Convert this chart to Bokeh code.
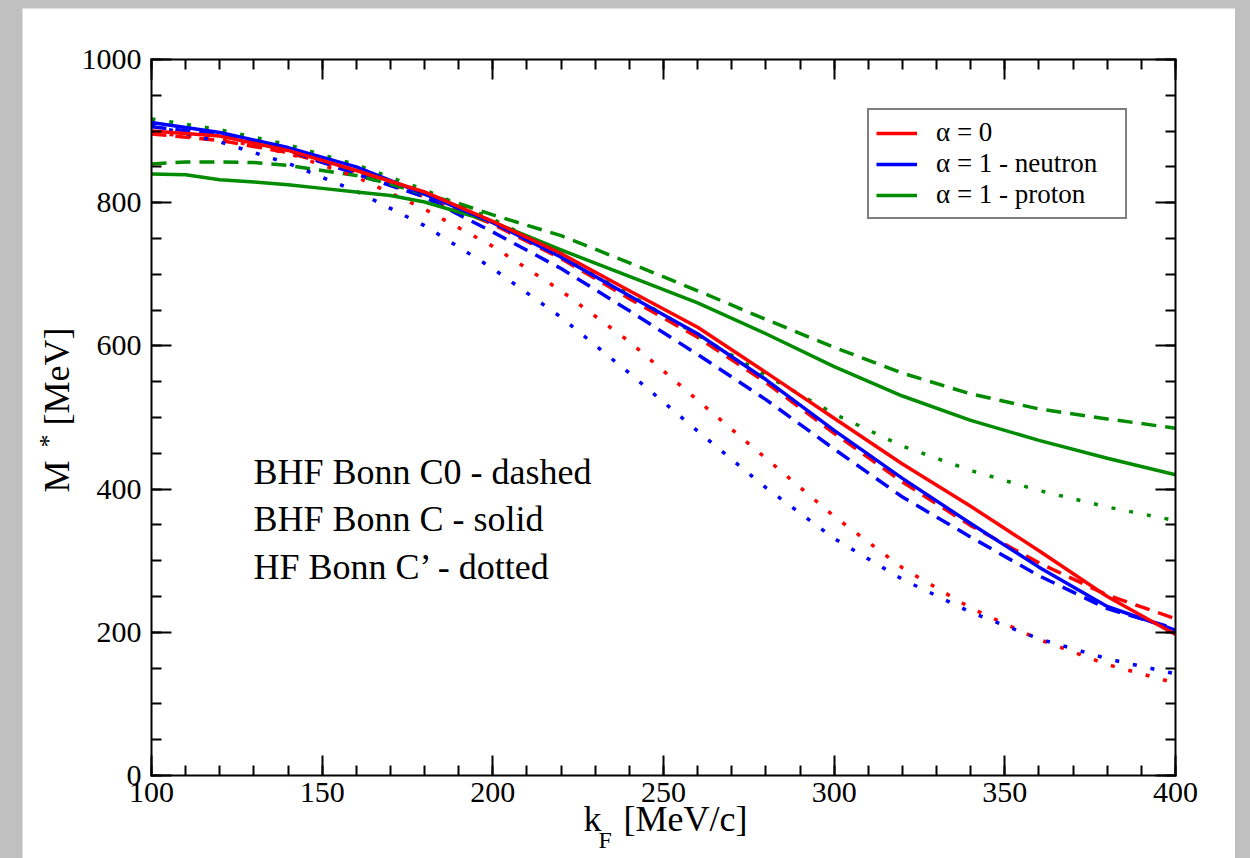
from bokeh.plotting import figure
from bokeh.models import FixedTicker, LinearAxis, Legend, LegendItem, Label, Range1d
from bokeh.layouts import column
from bokeh.embed import file_html
from bokeh.resources import INLINE

# ---------------- data ----------------
k20 = [100, 120, 140, 160, 180, 200, 220, 240, 260, 280, 300, 320, 340, 360, 380, 400]

# alpha = 0
red_solid = [900, 893, 873, 845, 815, 774, 729, 677, 626, 563, 499, 435, 376, 314, 250, 197]   # BHF Bonn C
red_dashed = [896, 887, 870, 843, 808, 770, 722, 666, 612, 549, 478, 410, 349, 297, 252, 219]  # BHF Bonn C0
red_dotted = [897, 890, 869, 836, 791, 739, 677, 606, 524, 443, 362, 290, 234, 190, 155, 129]  # HF Bonn C'

# alpha = 1 - neutron
blue_solid = [912, 898, 877, 850, 812, 772, 724, 670, 617, 553, 482, 415, 352, 291, 236, 203]
blue_dashed = [906, 895, 873, 840, 808, 759, 708, 649, 588, 525, 456, 389, 333, 279, 233, 205]
blue_dotted = [908, 885, 855, 816, 768, 708, 640, 562, 481, 402, 331, 274, 228, 191, 163, 142]

# alpha = 1 - proton
green_solid_k = [100, 110, 120, 130, 140, 150, 160, 170, 180, 200, 220, 240, 260, 280, 300, 320, 340, 360, 380, 400]
green_solid = [840, 839, 832, 829, 825, 820, 815, 810, 801, 773, 734, 697, 660, 617, 571, 530, 496, 468, 443, 420]
green_dashed_k = [100, 110, 120, 130, 140, 150, 160, 170, 180, 190, 200, 220, 240, 260, 280, 300, 320, 340, 360, 380, 400]
green_dashed = [854, 857, 857, 856, 852, 845, 838, 826, 812, 799, 783, 754, 716, 677, 637, 598, 562, 533, 512, 498, 485]
green_dotted = [917, 902, 881, 853, 818, 777, 729, 672, 615, 559, 505, 460, 426, 398, 375, 356]

legend_labels = ["\u03b1 = 0", "\u03b1 = 1 - neutron", "\u03b1 = 1 - proton"]
notes = ["BHF Bonn C0 - dashed", "BHF Bonn C - solid", "HF Bonn C\u2019 - dotted"]

x_bounds = (100, 400)
y_bounds = (0, 1000)
x_major = [100, 150, 200, 250, 300, 350, 400]
x_minor = list(range(100, 401, 10))
y_major = [0, 200, 400, 600, 800, 1000]
y_minor = list(range(0, 1001, 50))

# ---------------- styles ----------------
RED, BLUE, GREEN = "#ff0000", "#0000ff", "#008b00"
LW = 3.5
DASH = "15 9"
DOT = "4 14"
FONT = "Liberation Serif"

# page geometry (pixels): white page and the data box inside it
PL, PR, PT, PB = 22, 1235, 8, 858
FL, FR, FT, FB = 151, 1175, 59, 775


def dx(px):
    return x_bounds[0] + (px - FL) * (x_bounds[1] - x_bounds[0]) / (FR - FL)


def dy(py):
    return y_bounds[0] + (FB - py) * (y_bounds[1] - y_bounds[0]) / (FB - FT)


p = figure(width=PR - PL, height=PB - PT,
           x_range=Range1d(dx(PL), dx(PR)), y_range=Range1d(dy(PB), dy(PT)),
           output_backend="svg", toolbar_location=None,
           min_border_left=0, min_border_right=0,
           min_border_top=0, min_border_bottom=0,
           background_fill_color="white", border_fill_color="white")
p.title.visible = False
p.xgrid.visible = False
p.ygrid.visible = False
p.outline_line_color = None
p.margin = (PT, 1250 - PR, 0, PL)


def style_axis(ax, ticks, minor, bounds, loc, labels=True, standoff=8):
    ax.ticker = FixedTicker(ticks=ticks, minor_ticks=minor)
    ax.bounds = bounds
    ax.fixed_location = loc
    ax.axis_line_color = "black"
    ax.axis_line_width = 2
    ax.axis_line_cap = "square"
    ax.major_tick_line_color = "black"
    ax.major_tick_line_width = 2
    ax.minor_tick_line_color = "black"
    ax.minor_tick_line_width = 2
    ax.major_tick_in = 20
    ax.major_tick_out = 0
    ax.minor_tick_in = 10
    ax.minor_tick_out = 0
    ax.major_label_text_font = FONT
    ax.major_label_text_font_size = "30px"
    ax.major_label_text_color = "black"
    ax.major_label_standoff = standoff
    if not labels:
        ax.major_label_overrides = {v: "" for v in ticks}


style_axis(p.xaxis[0], x_major, x_minor, x_bounds, y_bounds[0], True, 7)
style_axis(p.yaxis[0], y_major, y_minor, y_bounds, x_bounds[0], True, 10)
top = LinearAxis()
style_axis(top, x_major, x_minor, x_bounds, y_bounds[1], False)
right = LinearAxis()
style_axis(right, y_major, y_minor, y_bounds, x_bounds[1], False)
p.add_layout(top, "above")
p.add_layout(right, "right")

# ---------------- curves ----------------
def ln(x, y, color, dash):
    return p.line(x, y, line_color=color, line_width=LW, line_dash=dash,
                  line_cap="butt", line_join="round")

ln(k20, red_dashed, RED, DASH)
ln(k20, blue_dashed, BLUE, DASH)
ln(green_dashed_k, green_dashed, GREEN, DASH)
ln(k20, red_dotted, RED, DOT)
ln(k20, blue_dotted, BLUE, DOT)
ln(k20, green_dotted, GREEN, DOT)
rg = ln(green_solid_k, green_solid, GREEN, "solid")
rb = ln(k20, blue_solid, BLUE, "solid")
rr = ln(k20, red_solid, RED, "solid")

# legend
legend = Legend(items=[LegendItem(label=legend_labels[0], renderers=[rr]),
                       LegendItem(label=legend_labels[1], renderers=[rb]),
                       LegendItem(label=legend_labels[2], renderers=[rg])],
                location=(867 - PL, PB - 219), margin=0,
                border_line_color="black", border_line_width=2,
                background_fill_color="white", background_fill_alpha=1.0,
                label_text_font=FONT, label_text_font_size="27px",
                label_text_color="black",
                glyph_width=41, glyph_height=26, label_height=26, label_width=182,
                spacing=0, padding=7, label_standoff=19)
p.add_layout(legend)

# ---------------- texts ----------------
def lab(text, px, py, size, angle=0):
    p.add_layout(Label(x=dx(px), y=dy(py), text=text, text_font=FONT,
                       text_font_size=size, text_color="black",
                       text_baseline="alphabetic", text_align="left",
                       angle=angle, angle_units="deg"))

lab(notes[0], 253, 471, "36px")
lab(notes[1], 253, 518, "36px")
lab(notes[2], 253, 566, "36px")

# x axis title: k_F [MeV/c]
lab("k", 583, 818, "36px")
lab("F", 598, 839, "24px")
lab("[MeV/c]", 623, 818, "36px")

# y axis title: M^* [MeV]
lab("M", 56, 492, "36px", 90)
lab("*", 48, 447, "26px", 90)
lab("[MeV]", 56, 425, "36px", 90)

layout = column(p, styles={"background-color": "#c0c0c0"})

with open("out.html", "w") as f:
    f.write(file_html(layout, INLINE))
